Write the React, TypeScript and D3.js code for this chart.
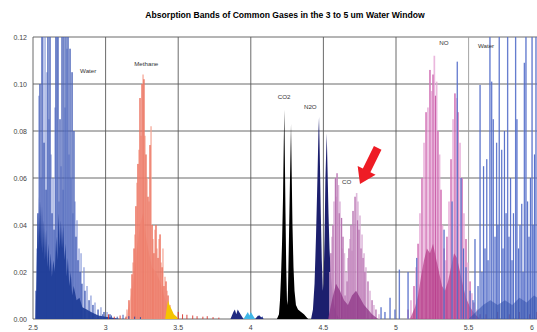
import React, { useRef, useEffect } from "react";
import * as d3 from "d3";

type Pt = [number, number];

const title = "Absorption Bands of Common Gases in the 3 to 5 um Water Window";
const xTicks = [2.5, 3, 3.5, 4, 4.5, 5, 5.5, 6];
const yTicks = [0, 0.02, 0.04, 0.06, 0.08, 0.1, 0.12];

// water band 2.5 - 3.0 um (values above 0.12 run off the top)
const waterLeftLines: Pt[] = [
	[2.521, 0.012], [2.528, 0.03], [2.534, 0.045], [2.541, 0.095], [2.548, 0.1],
	[2.555, 0.06], [2.562, 0.13], [2.569, 0.13], [2.576, 0.075], [2.583, 0.13],
	[2.59, 0.055], [2.596, 0.105], [2.603, 0.13], [2.61, 0.085], [2.617, 0.13],
	[2.624, 0.07], [2.631, 0.045], [2.638, 0.06], [2.645, 0.038], [2.652, 0.09],
	[2.658, 0.13], [2.665, 0.13], [2.672, 0.13], [2.679, 0.05], [2.686, 0.085],
	[2.693, 0.065], [2.7, 0.13], [2.707, 0.055], [2.713, 0.13], [2.72, 0.09],
	[2.727, 0.13], [2.734, 0.115], [2.741, 0.13], [2.748, 0.07], [2.755, 0.115],
	[2.762, 0.06], [2.769, 0.105], [2.775, 0.045], [2.782, 0.08], [2.789, 0.05],
	[2.796, 0.035], [2.803, 0.042], [2.81, 0.025], [2.817, 0.03], [2.824, 0.02],
	[2.831, 0.028], [2.837, 0.015], [2.851, 0.022], [2.858, 0.012], [2.872, 0.014],
	[2.886, 0.008], [2.899, 0.01], [2.913, 0.006], [2.927, 0.007], [2.948, 0.004],
	[2.968, 0.005], [2.989, 0.003], [3.01, 0.003], [3.03, 0.002],
];
const waterLeftFill: Pt[] = [
	[2.517, 0], [2.522, 0.012], [2.528, 0.03], [2.534, 0.045], [2.538, 0.03],
	[2.541, 0.052], [2.546, 0.035], [2.55, 0.05], [2.556, 0.03], [2.562, 0.048],
	[2.568, 0.028], [2.575, 0.042], [2.582, 0.025], [2.59, 0.038], [2.598, 0.022],
	[2.606, 0.032], [2.614, 0.02], [2.622, 0.028], [2.63, 0.018], [2.64, 0.025],
	[2.65, 0.02], [2.66, 0.035], [2.668, 0.025], [2.676, 0.045], [2.684, 0.03],
	[2.692, 0.042], [2.7, 0.03], [2.708, 0.04], [2.716, 0.025], [2.724, 0.032],
	[2.732, 0.018], [2.74, 0.026], [2.75, 0.014], [2.76, 0.02], [2.77, 0.01],
	[2.78, 0.014], [2.8, 0.008], [2.82, 0.009], [2.84, 0.005], [2.87, 0.004],
	[2.9, 0.003], [2.95, 0.0015], [3.0, 0.001], [3.05, 0.0005], [3.1, 0],
];

// methane
const methaneLines: Pt[] = [
	[3.147, 0.004], [3.161, 0.008], [3.175, 0.013], [3.182, 0.019], [3.189, 0.024],
	[3.196, 0.03], [3.202, 0.036], [3.209, 0.048], [3.216, 0.058], [3.223, 0.066],
	[3.23, 0.072], [3.237, 0.094], [3.244, 0.078], [3.251, 0.1], [3.258, 0.104],
	[3.264, 0.102], [3.271, 0.078], [3.278, 0.07], [3.285, 0.06], [3.292, 0.052],
	[3.299, 0.05], [3.306, 0.074], [3.313, 0.082], [3.32, 0.04], [3.326, 0.034],
	[3.333, 0.028], [3.34, 0.038], [3.347, 0.04], [3.354, 0.03], [3.361, 0.026],
	[3.368, 0.034], [3.375, 0.036], [3.382, 0.024], [3.389, 0.022], [3.395, 0.03],
	[3.402, 0.014], [3.409, 0.018], [3.416, 0.016], [3.423, 0.012], [3.43, 0.01],
	[3.444, 0.006], [3.457, 0.003],
];
const methaneFill: Pt[] = [
	[3.14, 0], [3.168, 0.008], [3.196, 0.018], [3.216, 0.03], [3.237, 0.04],
	[3.258, 0.045], [3.278, 0.035], [3.299, 0.028], [3.32, 0.022], [3.347, 0.02],
	[3.375, 0.016], [3.402, 0.01], [3.43, 0.005], [3.457, 0.001], [3.478, 0],
];
const ethaneFill: Pt[] = [
	[3.41, 0], [3.42, 0.004], [3.43, 0.008], [3.44, 0.006], [3.455, 0.004],
	[3.47, 0.002], [3.49, 0.001], [3.5, 0],
];

// small stuff near 3.9 - 4.1
const minorNavy: Pt[] = [
	[3.86, 0], [3.88, 0.003], [3.89, 0.004], [3.9, 0.002], [3.91, 0.004],
	[3.92, 0.003], [3.94, 0.001], [3.95, 0],
	[4.03, 0], [4.05, 0.0015], [4.07, 0.001], [4.09, 0],
];
const minorCyan: Pt[] = [
	[3.95, 0], [3.97, 0.002], [3.98, 0.003], [3.99, 0.0015], [4.0, 0.003],
	[4.02, 0.001], [4.03, 0],
];
const noiseRed: Pt[] = [
	[3.02, 0.002], [3.06, 0.001], [3.1, 0.0015], [3.14, 0.001], [3.5, 0.003],
	[3.53, 0.002], [3.56, 0.0018], [3.6, 0.0015], [3.63, 0.0012], [3.67, 0.001],
	[3.7, 0.0012], [3.74, 0.0008], [3.78, 0.0006], [5.62, 0.002], [5.7, 0.003],
	[5.78, 0.002], [5.85, 0.003], [5.92, 0.002], [5.97, 0.003],
];
const noiseBlue: Pt[] = [
	[2.98, 0.002], [3.04, 0.0015], [3.08, 0.001], [3.12, 0.0018], [3.16, 0.0012],
	[3.2, 0.001], [3.24, 0.0008], [4.06, 0.0015], [4.08, 0.001],
];

// CO2
const co2: Pt[] = [
	[4.18, 0], [4.194, 0.002], [4.201, 0.008], [4.208, 0.018], [4.215, 0.032],
	[4.222, 0.052], [4.227, 0.075], [4.231, 0.089], [4.234, 0.072], [4.239, 0.045],
	[4.244, 0.022], [4.249, 0.008], [4.253, 0.006], [4.256, 0.012], [4.263, 0.035],
	[4.27, 0.06], [4.277, 0.083], [4.281, 0.065], [4.287, 0.04], [4.294, 0.022],
	[4.301, 0.012], [4.311, 0.006], [4.325, 0.004], [4.346, 0.003], [4.366, 0.002],
	[4.387, 0.0005], [4.395, 0],
];

// N2O
const n2o: Pt[] = [
	[4.415, 0], [4.428, 0.004], [4.439, 0.015], [4.449, 0.035], [4.459, 0.06],
	[4.466, 0.08], [4.47, 0.086], [4.475, 0.07], [4.482, 0.045], [4.489, 0.025],
	[4.496, 0.012], [4.501, 0.015], [4.508, 0.035], [4.514, 0.06], [4.523, 0.079],
	[4.528, 0.065], [4.535, 0.045], [4.542, 0.03], [4.552, 0.018], [4.566, 0.009],
	[4.58, 0.004], [4.6, 0.001], [4.621, 0],
];

// CO
const coLines: Pt[] = [
	[4.545, 0.02], [4.552, 0.028], [4.559, 0.035], [4.566, 0.04], [4.573, 0.05],
	[4.583, 0.06], [4.588, 0.052], [4.594, 0.062], [4.604, 0.057], [4.609, 0.045],
	[4.614, 0.05], [4.625, 0.043], [4.63, 0.03], [4.635, 0.035], [4.645, 0.028],
	[4.649, 0.01], [4.656, 0.02], [4.663, 0.016], [4.669, 0.026], [4.676, 0.03],
	[4.683, 0.034], [4.69, 0.04], [4.697, 0.029], [4.704, 0.046], [4.711, 0.04],
	[4.718, 0.052], [4.729, 0.0536], [4.735, 0.042], [4.738, 0.05], [4.745, 0.038],
	[4.752, 0.044], [4.759, 0.03], [4.766, 0.036], [4.773, 0.026], [4.78, 0.028],
	[4.786, 0.02], [4.793, 0.022], [4.807, 0.016], [4.821, 0.012], [4.835, 0.008],
	[4.848, 0.006], [4.862, 0.004], [4.883, 0.002],
];
const coFill: Pt[] = [
	[4.532, 0], [4.559, 0.008], [4.587, 0.015], [4.614, 0.012], [4.642, 0.008],
	[4.669, 0.006], [4.697, 0.01], [4.725, 0.012], [4.752, 0.009], [4.78, 0.006],
	[4.807, 0.004], [4.835, 0.002], [4.876, 0],
];

// NO
const noLines: Pt[] = [
	[5.083, 0.004], [5.103, 0.008], [5.124, 0.014], [5.138, 0.022], [5.152, 0.032],
	[5.165, 0.045], [5.179, 0.06], [5.193, 0.075], [5.207, 0.088], [5.22, 0.09],
	[5.234, 0.106], [5.246, 0.097], [5.255, 0.104], [5.264, 0.112], [5.272, 0.095],
	[5.28, 0.101], [5.289, 0.08], [5.3, 0.07], [5.31, 0.055], [5.32, 0.04],
	[5.331, 0.03], [5.341, 0.025], [5.351, 0.035], [5.365, 0.05], [5.379, 0.068],
	[5.393, 0.085], [5.406, 0.096], [5.418, 0.094], [5.427, 0.088], [5.441, 0.075],
	[5.455, 0.06], [5.468, 0.045], [5.482, 0.034], [5.496, 0.024], [5.51, 0.016],
	[5.523, 0.011], [5.537, 0.007], [5.558, 0.004], [5.579, 0.002],
];
const noFill: Pt[] = [
	[5.096, 0], [5.131, 0.005], [5.152, 0.01], [5.172, 0.018], [5.193, 0.025],
	[5.213, 0.03], [5.234, 0.028], [5.255, 0.032], [5.275, 0.026], [5.296, 0.02],
	[5.317, 0.014], [5.337, 0.012], [5.358, 0.016], [5.379, 0.022], [5.4, 0.028],
	[5.42, 0.026], [5.441, 0.02], [5.462, 0.014], [5.482, 0.009], [5.51, 0.005],
	[5.544, 0.002], [5.579, 0],
];

// water band above 5 um
const waterRightLines: Pt[] = [
	[4.897, 0.005], [4.924, 0.003], [4.959, 0.009], [4.993, 0.004], [5.023, 0.021],
	[5.083, 0.02], [5.143, 0.026], [5.331, 0.038], [5.386, 0.05], [5.422, 0.1095],
	[5.448, 0.06], [5.465, 0.03], [5.482, 0.022],
	[5.51, 0.012], [5.53, 0.008], [5.544, 0.034], [5.565, 0.014], [5.579, 0.0996],
	[5.592, 0.02], [5.603, 0.065], [5.613, 0.03], [5.625, 0.068], [5.634, 0.025],
	[5.647, 0.13], [5.659, 0.101], [5.67, 0.085], [5.682, 0.035], [5.693, 0.075],
	[5.702, 0.04], [5.711, 0.13], [5.728, 0.072], [5.737, 0.03], [5.747, 0.08],
	[5.758, 0.045], [5.769, 0.13], [5.778, 0.035], [5.789, 0.06], [5.799, 0.025],
	[5.809, 0.045], [5.824, 0.13], [5.833, 0.085], [5.844, 0.03], [5.854, 0.04],
	[5.866, 0.049], [5.875, 0.02], [5.884, 0.109], [5.895, 0.13], [5.906, 0.05],
	[5.916, 0.035], [5.926, 0.06], [5.937, 0.13], [5.944, 0.04], [5.954, 0.07],
	[5.964, 0.13],
];
const waterRightFill: Pt[] = [
	[5.5, 0], [5.55, 0.003], [5.6, 0.006], [5.65, 0.008], [5.7, 0.006],
	[5.75, 0.008], [5.8, 0.006], [5.85, 0.009], [5.9, 0.007], [5.95, 0.01], [6.0, 0.008],
];

const gasLabels: [string, number, number][] = [
	["Water", 2.88, 0.1045], ["Methane", 3.28, 0.1075], ["CO2", 4.23, 0.0935],
	["N2O", 4.41, 0.0893], ["CO", 4.66, 0.0575], ["NO", 5.33, 0.1165], ["Water", 5.62, 0.1155],
];
// arrow pointing at the CO label: tip and tail
const arrowTip: Pt = [4.752, 0.0575];
const arrowTail: Pt = [4.874, 0.0728];

const App = () => {
	const svg_ref = useRef(null);
	const svg_width = 537;
	const svg_height = 332;

	useEffect(() => {
		const svg = d3.select(svg_ref.current);
		svg.selectChildren().remove();

		const x = d3.scaleLinear().domain([2.5, 6]).range([33, 33 + 3.5 * 145.2]);
		const y = d3.scaleLinear().domain([0, 0.12]).range([319, 37]);

		svg.append("defs").append("clipPath").attr("id", "plotclip")
			.append("rect").attr("x", 33).attr("y", 37).attr("width", 520).attr("height", 282);

		// title
		svg.append("text")
			.attr("x", 285).attr("y", 18)
			.attr("text-anchor", "middle")
			.style("font-family", "Liberation Sans, Arial, sans-serif")
			.style("font-weight", "bold").style("font-size", "8.6px")
			.text(title);

		// grid
		const grid = svg.append("g");
		grid.selectAll("line.h").data(yTicks).join("line")
			.attr("x1", 33).attr("x2", 537)
			.attr("y1", d => y(d)).attr("y2", d => y(d))
			.attr("stroke", "#5a5a5a").attr("stroke-width", 0.9);
		grid.selectAll("line.v").data(xTicks.filter(d => d < 6)).join("line")
			.attr("x1", d => x(d)).attr("x2", d => x(d))
			.attr("y1", 37).attr("y2", 319)
			.attr("stroke", d => d === 5.5 ? "#9a9a9a" : "#5a5a5a").attr("stroke-width", 0.9);

		// axis labels
		svg.append("g").selectAll("text").data(yTicks).join("text")
			.attr("x", 27).attr("y", d => y(d) + 2.5)
			.attr("text-anchor", "end")
			.style("font-family", "Liberation Sans, Arial, sans-serif").style("font-size", "7px")
			.attr("fill", "#444")
			.text(d => d3.format(".2f")(d));
		svg.append("g").selectAll("text").data(xTicks).join("text")
			.attr("x", d => Math.min(x(d), 532)).attr("y", 330)
			.attr("text-anchor", "middle")
			.style("font-family", "Liberation Sans, Arial, sans-serif").style("font-size", "7px")
			.attr("fill", "#444")
			.text(d => String(d));

		const plot = svg.append("g").attr("clip-path", "url(#plotclip)");
		const area = d3.area<Pt>().x(d => x(d[0])).y0(y(0)).y1(d => y(d[1]));

		const drawLines = (data: Pt[], color: string, width: number, opacity: number, keep: (i: number) => boolean) => {
			plot.append("g").selectAll("line").data(data.filter((d, i) => keep(i))).join("line")
				.attr("x1", d => x(d[0])).attr("x2", d => x(d[0]))
				.attr("y1", y(0)).attr("y2", d => y(d[1]))
				.attr("stroke", color).attr("stroke-width", width).attr("stroke-opacity", opacity);
		};
		const drawArea = (data: Pt[], color: string, opacity: number) => {
			plot.append("path").datum(data).attr("d", area)
				.attr("fill", color).attr("fill-opacity", opacity);
		};
		const all = () => true;
		const even = (i: number) => i % 2 === 0;
		const odd = (i: number) => i % 2 === 1;

		// water left
		drawLines(waterLeftLines, "#6d82d0", 1.6, 0.6, all);
		drawLines(waterLeftLines, "#2a46a6", 0.9, 0.9, even);
		drawArea(waterLeftFill, "#1d3c97", 0.92);

		// methane
		drawArea(methaneFill, "#f7b9ab", 0.9);
		drawLines(methaneLines, "#f4a190", 1.6, 0.75, all);
		drawLines(methaneLines, "#e3412c", 0.8, 0.85, odd);
		drawArea(ethaneFill, "#f5c400", 1);

		// baseline bits
		drawLines(noiseBlue, "#2a46a6", 1, 0.9, all);
		drawLines(noiseRed, "#d8322a", 1, 0.9, all);
		drawArea(minorNavy, "#1f2a80", 1);
		drawArea(minorCyan, "#3fb6e6", 1);

		// CO2, N2O
		drawArea(co2, "#000000", 1);
		drawArea(n2o, "#1c1f6e", 1);

		// CO
		drawLines(coLines, "#d6a8d2", 1.6, 0.8, all);
		drawLines(coLines, "#a4529c", 0.8, 0.85, odd);
		drawArea(coFill, "#8e3486", 0.75);

		// NO
		drawLines(noLines, "#e5a6d5", 1.7, 0.8, all);
		drawLines(noLines, "#c24a9c", 0.9, 0.85, even);
		drawArea(noFill, "#b0307f", 0.65);

		// water right
		drawLines(waterRightLines, "#8a9de0", 1.5, 0.55, all);
		drawLines(waterRightLines, "#3f5cc0", 0.9, 0.9, all);
		drawArea(waterRightFill, "#2a4aa8", 0.5);

		// gas labels
		svg.append("g").selectAll("text").data(gasLabels).join("text")
			.attr("x", d => x(d[1])).attr("y", d => y(d[2]))
			.attr("text-anchor", "middle")
			.style("font-family", "Liberation Sans, Arial, sans-serif").style("font-size", "6.2px")
			.attr("fill", "#333")
			.text(d => d[0]);

		// red arrow
		const tx = x(arrowTip[0]), ty = y(arrowTip[1]);
		const bx = x(arrowTail[0]), by = y(arrowTail[1]);
		const len = Math.hypot(bx - tx, by - ty);
		const ux = (bx - tx) / len, uy = (by - ty) / len;
		const px = -uy, py = ux;
		const headLen = 15, headW = 10, shaftW = 4.2;
		const hx = tx + ux * headLen, hy = ty + uy * headLen;
		const pts: Pt[] = [
			[tx, ty],
			[hx + px * headW, hy + py * headW],
			[hx + px * shaftW, hy + py * shaftW],
			[bx + px * shaftW, by + py * shaftW],
			[bx - px * shaftW, by - py * shaftW],
			[hx - px * shaftW, hy - py * shaftW],
			[hx - px * headW, hy - py * headW],
		];
		svg.append("path")
			.attr("d", d3.line()(pts) + "Z")
			.attr("fill", "#ee1c25");
	});

	return (
		<div>
			<svg ref={svg_ref} width={svg_width} height={svg_height}
				style={{ position: "absolute", left: 0, top: 0, background: "#fff" }}>
			</svg>
		</div>
	);
};

export default App;
